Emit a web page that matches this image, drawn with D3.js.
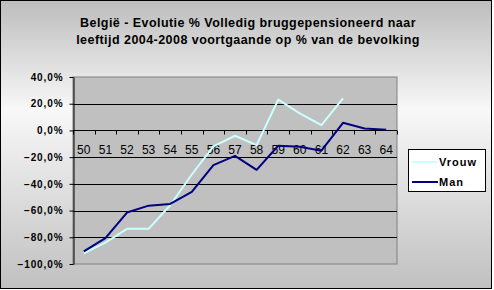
<!DOCTYPE html>
<html lang="nl">
<head>
<meta charset="utf-8">
<title>Bruggepensioneerd</title>
<script src="https://d3js.org/d3.v7.min.js"></script>
<style>
  body { margin: 0; background: #ffffff; }
  svg { display: block; }
  .ylab { font-family: "Liberation Sans", Arial, sans-serif; font-weight: bold; font-size: 10px; letter-spacing: 0.9px; }
  .xlab { font-family: "Liberation Sans", Arial, sans-serif; font-size: 12px; }
</style>
</head>
<body>
<div id="chart"></div>
<script>
// Data
var ages = ["50","51","52","53","54","55","56","57","58","59","60","61","62","63","64"];
var vrouw = [-92, -84, -73.7, -73.7, -56, -33, -12, -4, -11, 23, 12.7, 4, 24, null, null];
var man = [-90.6, -80.6, -61.5, -56.3, -55, -46, -26, -19, -29.5, -11.5, -12.2, -15.2, 5.7, 1.5, 0.6];
var yTicks = [40, 20, 0, -20, -40, -60, -80, -100];
var seriesNames = ["Vrouw", "Man"];
var seriesColors = ["#ccffff", "#000080"];

var W = 494, H = 290;
var plot = { left: 73, right: 397, top: 77, bottom: 264 };

var svg = d3.select("#chart").append("svg")
  .attr("width", W)
  .attr("height", H);

// background gradient of the chart area
var grad = svg.append("defs").append("linearGradient")
  .attr("id", "bg").attr("x1", 0).attr("y1", 0).attr("x2", 0).attr("y2", 1);
grad.append("stop").attr("offset", "0%").attr("stop-color", "#bdbdbd");
grad.append("stop").attr("offset", "38%").attr("stop-color", "#f8f8f8");
grad.append("stop").attr("offset", "100%").attr("stop-color", "#c0c0c0");

svg.append("rect")
  .attr("x", 0.5).attr("y", 0.5)
  .attr("width", W - 3).attr("height", H - 2)
  .attr("fill", "url(#bg)")
  .attr("stroke", "#000");

// Title
var title = svg.append("text")
  .attr("text-anchor", "middle")
  .style("font-family", "'Liberation Sans', Arial, sans-serif")
  .style("font-weight", "bold")
  .style("font-size", "12.5px")
  .style("letter-spacing", "0.45px");
title.append("tspan").attr("x", 248).attr("y", 27).text("België - Evolutie % Volledig bruggepensioneerd naar");
title.append("tspan").attr("x", 248).attr("y", 44).text("leeftijd 2004-2008 voortgaande op % van de bevolking");

// Scales
var x = d3.scaleBand().domain(ages).range([plot.left, plot.right]);
var y = d3.scaleLinear().domain([-100, 40]).range([plot.bottom, plot.top]);

// plot area
svg.append("rect")
  .attr("x", plot.left).attr("y", plot.top)
  .attr("width", plot.right - plot.left)
  .attr("height", plot.bottom - plot.top)
  .attr("fill", "#c0c0c0")
  .attr("stroke", "#808080");

// gridlines
svg.append("g")
  .selectAll("line")
  .data(yTicks.filter(d => d !== -100 && d !== 40))
  .join("line")
  .attr("x1", plot.left).attr("x2", plot.right)
  .attr("y1", d => Math.round(y(d)) + 0.5)
  .attr("y2", d => Math.round(y(d)) + 0.5)
  .attr("stroke", "#000");

// Y axis
var yAxis = svg.append("g")
  .attr("transform", `translate(${plot.left + 0.5},0)`)
  .call(d3.axisLeft(y).tickValues(yTicks).tickSize(4).tickSizeOuter(0)
    .tickFormat(d => d3.format(".1f")(d).replace(".", ",") + "%"));
yAxis.select(".domain").attr("stroke", "#000");
yAxis.selectAll("line").attr("stroke", "#000");
yAxis.selectAll("text")
  .attr("class", "ylab")
  .attr("fill", "#000")
  .attr("x", -10);

// X axis on the zero line, ticks between categories
var xAxis = svg.append("g")
  .attr("transform", `translate(0,${Math.round(y(0)) + 0.5})`);
xAxis.append("line")
  .attr("x1", plot.left).attr("x2", plot.right)
  .attr("stroke", "#000");
xAxis.selectAll(".tk")
  .data(ages.concat(["end"]))
  .join("line")
  .attr("class", "tk")
  .attr("x1", (d, i) => Math.round(plot.left + i * x.step()) + 0.5)
  .attr("x2", (d, i) => Math.round(plot.left + i * x.step()) + 0.5)
  .attr("y1", 0).attr("y2", 4)
  .attr("stroke", "#000");
xAxis.selectAll(".xlab")
  .data(ages)
  .join("text")
  .attr("class", "xlab")
  .attr("text-anchor", "middle")
  .attr("x", d => x(d) + x.bandwidth() / 2)
  .attr("y", 23)
  .text(d => d);

// Lines
var series = [vrouw, man];
var line = d3.line()
  .defined(d => d.v !== null)
  .x(d => x(d.age) + x.bandwidth() / 2)
  .y(d => y(d.v));

svg.append("g")
  .selectAll("path")
  .data(series)
  .join("path")
  .attr("d", s => line(s.map((v, i) => ({ age: ages[i], v: v }))))
  .attr("fill", "none")
  .attr("stroke", (s, i) => seriesColors[i])
  .attr("stroke-width", 2)
  .attr("stroke-linejoin", "round");

// Legend
var legend = svg.append("g");
legend.append("rect")
  .attr("x", 408.5).attr("y", 149.5)
  .attr("width", 77).attr("height", 42)
  .attr("fill", "#ffffff")
  .attr("stroke", "#000");
var items = legend.selectAll(".item")
  .data(seriesNames)
  .join("g")
  .attr("class", "item")
  .attr("transform", (d, i) => `translate(0,${162 + i * 20})`);
items.append("line")
  .attr("x1", 412).attr("x2", 438)
  .attr("stroke", (d, i) => seriesColors[i])
  .attr("stroke-width", 2);
items.append("text")
  .attr("x", 439)
  .attr("y", 4)
  .style("font-family", "'Liberation Sans', Arial, sans-serif")
  .style("font-weight", "bold")
  .style("font-size", "11px")
  .style("letter-spacing", "1px")
  .text(d => d);
</script>
</body>
</html>
